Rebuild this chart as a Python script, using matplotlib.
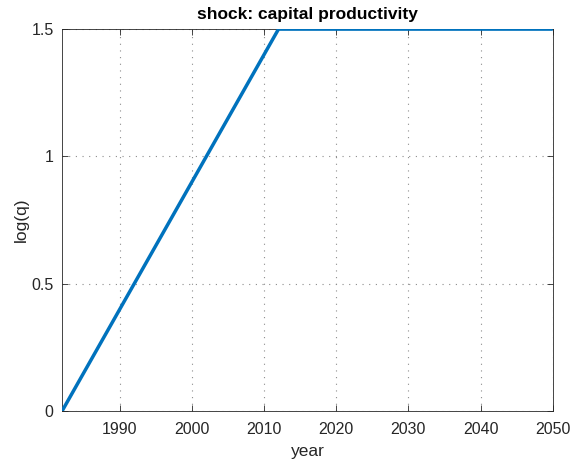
import matplotlib
matplotlib.use("Agg")
import matplotlib.pyplot as plt

plt.rcParams['font.family'] = ['Liberation Sans', 'DejaVu Sans']

years = [1982, 2012, 2050]
log_q = [0.0, 1.5, 1.5]
x_ticks = [1990, 2000, 2010, 2020, 2030, 2040, 2050]
y_ticks = [0, 0.5, 1, 1.5]
y_tick_labels = ['0', '0.5', '1', '1.5']

fig = plt.figure(figsize=(5.74, 4.62), dpi=100)
ax = fig.add_axes([0.108, 0.110, 0.855, 0.827])

ax.plot(years, log_q, color='#0072BD', linewidth=2.5, solid_capstyle='butt', zorder=3)

ax.set_xlim(1982, 2050)
ax.set_ylim(0, 1.5)
ax.set_xticks(x_ticks)
ax.set_yticks(y_ticks)
ax.set_yticklabels(y_tick_labels)

ax.grid(True, linestyle=(0, (1, 5)), color='#8c8c8c', linewidth=0.8)
ax.tick_params(direction='in', top=True, right=True, length=4, width=0.6,
               labelsize=11.5, colors='#262626')
ax.tick_params(axis='x', pad=8)
ax.tick_params(axis='y', pad=6)
for s in ax.spines.values():
    s.set_linewidth(0.6)
    s.set_color('#262626')

ax.set_xlabel('year', fontsize=12.5, color='#262626', labelpad=5)
ax.set_ylabel('log(q)', fontsize=12.5, color='#262626', labelpad=2)
ax.set_title('shock: capital productivity', fontsize=12.5, fontweight='bold', pad=7)

fig.savefig('out.png', dpi=100)
